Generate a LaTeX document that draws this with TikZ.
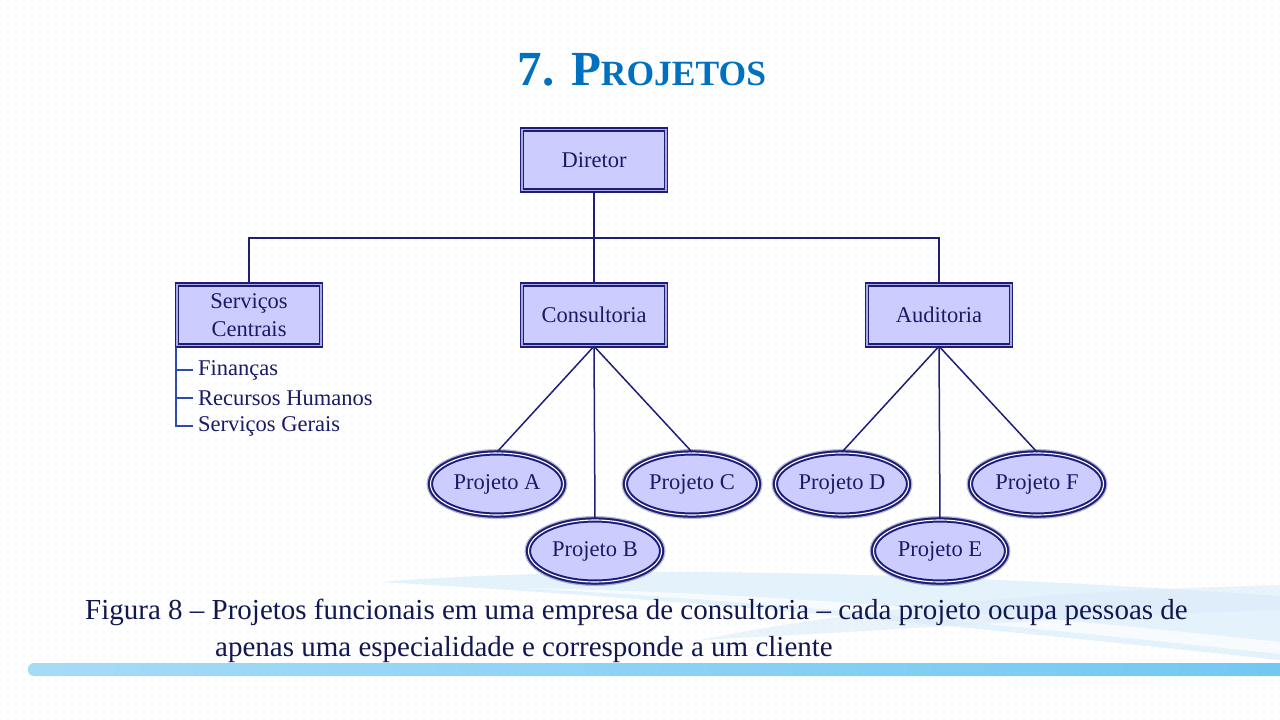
\documentclass[tikz,border=0pt]{standalone}
\usepackage{fontspec}
\setmainfont{Liberation Serif}
\usepackage{xcolor}
\usepackage{tikz}
\usetikzlibrary{positioning}
\usetikzlibrary{shapes.geometric}
\usetikzlibrary{patterns.meta}

\definecolor{navyline}{HTML}{1E1E78}
\definecolor{navytext}{HTML}{1A1A66}
\definecolor{captext}{HTML}{10184F}
\definecolor{boxfill}{HTML}{CCCCFF}
\definecolor{boxgap}{HTML}{A9A9E6}
\definecolor{subblue}{HTML}{2B4DAE}
\definecolor{titleblue}{HTML}{0070C0}
\definecolor{dotblue}{HTML}{C6DEF0}
\definecolor{swooshblue}{HTML}{E2F1FB}
\definecolor{bandleft}{HTML}{A5DBF7}
\definecolor{bandright}{HTML}{72C8F2}

\tikzset{
  unitbox/.style={draw=navyline, line width=1.5pt, double=boxgap, double distance=1.1pt,
    fill=boxfill, minimum width=144pt, minimum height=61pt, text=navytext,
    align=center, font=\fontsize{22.5}{28}\selectfont},
  projnode/.style={ellipse, draw=navyline, line width=2pt, double=white, double distance=1.1pt,
    fill=boxfill, minimum width=133pt, minimum height=62pt, text=navytext,
    font=\fontsize{22.5}{26}\selectfont,
    preaction={draw=navyline, line width=8pt, opacity=0.3},
    preaction={draw=navyline, line width=5.5pt, opacity=0.5}},
  orgline/.style={draw=navyline, line width=1.5pt},
  subline/.style={draw=subblue, line width=1.5pt},
  listitem/.style={anchor=west, inner sep=0pt, text=navytext, font=\fontsize{22.5}{26}\selectfont},
  capline/.style={anchor=base west, inner sep=0pt, text=captext, font=\fontsize{29}{34}\selectfont}
}

\begin{document}
\begin{tikzpicture}[x=1pt,y=-1pt]
  % background and decoration
  \useasboundingbox (0,0) rectangle (1280,720);
  \fill[white] (0,0) rectangle (1280,720);
  \fill[pattern={Dots[distance=8pt, radius=0.6pt]}, pattern color=dotblue] (0,0) rectangle (1280,720);
  \fill[swooshblue, opacity=0.9] (380,582) .. controls (600,565) and (900,570) .. (1280,596)
    -- (1280,660) .. controls (1000,630) and (700,600) .. (380,582);
  \fill[white, opacity=0.75] (520,588) .. controls (750,592) and (1000,612) .. (1280,642)
    -- (1280,654) .. controls (1000,624) and (750,600) .. (520,588);
  \fill[swooshblue!70!dotblue, opacity=0.6] (700,640) .. controls (900,600) and (1100,590) .. (1280,585)
    -- (1280,610) .. controls (1100,615) and (900,630) .. (700,640);
  \shade[left color=bandleft, right color=bandright, rounded corners=6pt]
    (28,663) rectangle (1290,676);

  % title
  \node[text=titleblue, font=\bfseries] (title) at (642,70)
    {\fontsize{49}{50}\selectfont 7. P\fontsize{35.5}{40}\selectfont ROJETOS};

  % units
  \node[unitbox] (dir)  at (594,160) {Diretor};
  \node[unitbox] (serv) at (249,315) {Serviços\\Centrais};
  \node[unitbox] (cons) at (594,315) {Consultoria};
  \node[unitbox] (aud)  at (939,315) {Auditoria};

  \draw[orgline] (dir.south) -- (cons.north);
  \draw[orgline] (serv.north) -- ++(0,-46) -| (aud.north);

  % central services
  \node[listitem] (fin) at (198,370) {Finanças};
  \node[listitem] (rh)  at (198,398) {Recursos Humanos};
  \node[listitem] (sg)  at (198,426) {Serviços Gerais};
  \coordinate (subtop) at (176,347);
  \draw[subline] (subtop) |- ([xshift=-5pt]sg.west);
  \draw[subline] (subtop |- fin.west) -- ([xshift=-5pt]fin.west);
  \draw[subline] (subtop |- rh.west) -- ([xshift=-5pt]rh.west);

  % projects
  \node[projnode] (pa) at (497,484) {Projeto A};
  \node[projnode] (pb) at (595,551) {Projeto B};
  \node[projnode] (pc) at (692,484) {Projeto C};
  \node[projnode] (pd) at (842,484) {Projeto D};
  \node[projnode] (pe) at (940,551) {Projeto E};
  \node[projnode] (pf) at (1037,484) {Projeto F};

  \draw[orgline] (cons.south) -- (pa.north);
  \draw[orgline] (cons.south) -- (pb.north);
  \draw[orgline] (cons.south) -- (pc.north);
  \draw[orgline] (aud.south) -- (pd.north);
  \draw[orgline] (aud.south) -- (pe.north);
  \draw[orgline] (aud.south) -- (pf.north);

  % caption
  \node[capline] (cap1) at (85,619) {Figura 8 – Projetos funcionais em uma empresa de consultoria – cada projeto ocupa pessoas de};
  \node[capline] (cap2) at (215,656) {apenas uma especialidade e corresponde a um cliente};
\end{tikzpicture}
\end{document}
